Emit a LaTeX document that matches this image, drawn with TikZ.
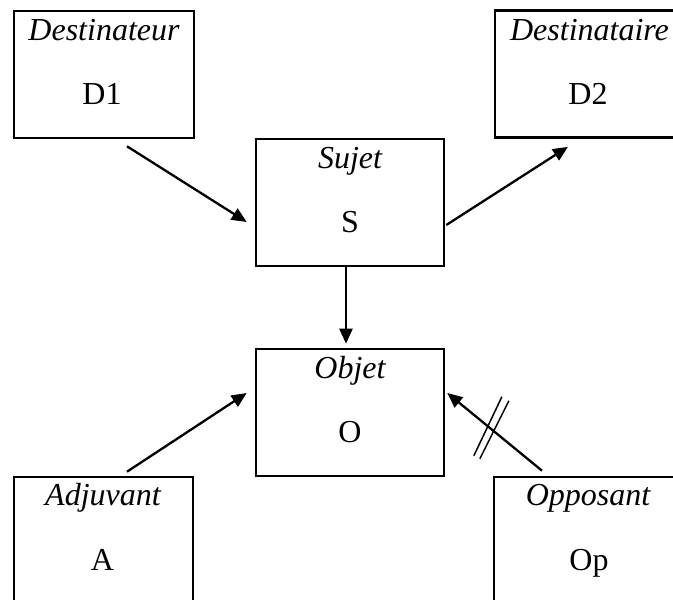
\documentclass[tikz,border=0pt]{standalone}
\usepackage{fontspec}
\setmainfont{Liberation Serif}
\usetikzlibrary{arrows.meta}
\begin{document}
\begin{tikzpicture}[x=1pt,y=-1pt,
  box/.style={draw,line width=2.6pt,rectangle,minimum height=127pt,inner sep=0pt},
  ttl/.style={anchor=base,inner sep=0pt,font=\fontsize{32}{38}\selectfont\itshape},
  ltr/.style={anchor=base,inner sep=0pt,font=\fontsize{32}{38}\selectfont},
  arr/.style={line width=2.3pt,-{Triangle[length=15pt,width=13pt]}},
  bar/.style={line width=1.5pt}]
\useasboundingbox (0,0) rectangle (673,600);
\clip (0,0) rectangle (673,600);
% boxes
\node[box,minimum width=180pt] (d1) at (104,74.5) {};
\node[box,minimum width=188pt] (d2) at (589,74) {};
\node[box,minimum width=188pt] (s) at (350,202.5) {};
\node[box,minimum width=188pt] (o) at (350,412.5) {};
\node[box,minimum width=179pt] (a) at (103.5,540.5) {};
\node[box,minimum width=188pt] (op) at (588,540.5) {};
% texts
\node[ttl] (d1t) at (104,40) {Destinateur};
\node[ltr] (d1l) at (102,104) {D1};
\node[ttl] (d2t) at (589.5,40) {Destinataire};
\node[ltr] (d2l) at (588,104) {D2};
\node[ttl] (st) at (350,168) {Sujet};
\node[ltr] (sl) at (350,232) {S};
\node[ttl] (ot) at (350,378) {Objet};
\node[ltr] (ol) at (350,442) {O};
\node[ttl] (at) at (103,505) {Adjuvant};
\node[ltr] (al) at (102.5,570) {A};
\node[ttl] (opt) at (588,505) {Opposant};
\node[ltr] (opl) at (589,570) {Op};
% connectors
\draw[arr] ([shift={(23,7)}]d1.south) -- ([shift={(-8,19.5)}]s.west);
\draw[arr] ([shift={(1,22.5)}]s.east) -- ([shift={(-21,8)}]d2.south);
\draw[arr] ([shift={(-4,0)}]s.south) -- ([shift={(-4,-4)}]o.north);
\draw[arr] ([shift={(23.5,-4)}]a.north) -- ([shift={(-8,-19.5)}]o.west);
\draw[arr] ([shift={(-46,-5)}]op.north) -- coordinate[pos=0.54] (mid) ([shift={(2,-19.5)}]o.east);
\draw[bar] ([shift={(-17,27)}]mid) -- ([shift={(11,-32)}]mid);
\draw[bar] ([shift={(-11,30)}]mid) -- ([shift={(18,-28)}]mid);
\end{tikzpicture}
\end{document}
